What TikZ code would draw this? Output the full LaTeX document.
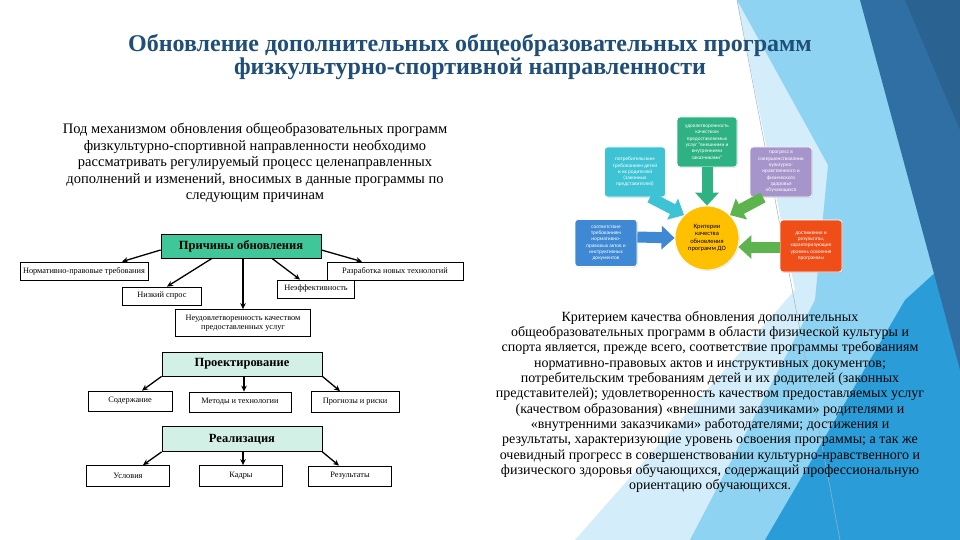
\documentclass[tikz,border=0pt]{standalone}
\usepackage{fontspec}
\setmainfont{Liberation Serif}
\newfontfamily\cali{Carlito}
\usetikzlibrary{arrows.meta,calc,shadows}
\definecolor{titleblue}{HTML}{1F4E79}
\definecolor{bgpale}{HTML}{D3EEFA}
\definecolor{bglight}{HTML}{8FD3F2}
\definecolor{bgmid}{HTML}{2A9DD8}
\definecolor{bgdark}{HTML}{2F6FA3}
\definecolor{bgdark2}{HTML}{2A6292}
\definecolor{thinln}{HTML}{9FB3C2}
\definecolor{headgreen}{HTML}{3FC79A}
\definecolor{mint}{HTML}{D2F0E6}
\definecolor{cgreen}{HTML}{2FB283}
\definecolor{ccyan}{HTML}{3DC3D4}
\definecolor{cblue}{HTML}{3F88D4}
\definecolor{cpurple}{HTML}{A695CB}
\definecolor{corange}{HTML}{F04E18}
\definecolor{cyellow}{HTML}{FFC000}
\definecolor{agreen}{HTML}{5DB44E}
\begin{document}
\begin{tikzpicture}[x=1pt,y=-1pt,
  lbox/.style={draw=black, line width=0.8pt, fill=white, inner sep=1pt,
    font=\fontsize{8.3}{9.5}\selectfont, align=center},
  hbox/.style={draw=black, line width=0.8pt, inner sep=1pt,
    font=\fontsize{12.5}{14}\selectfont\bfseries},
  arr/.style={-{Stealth[length=6pt,width=5.5pt]}, line width=1.3pt},
  cbox/.style={rounded corners=3pt, draw=white, line width=0.8pt, text=white,
    font=\cali\fontsize{5.3}{6.3}\selectfont, align=center, inner sep=1pt,
    drop shadow={opacity=0.25, shadow xshift=0.8pt, shadow yshift=-0.8pt}},
  barrow/.style={line width=11pt, -{Triangle[width=23pt,length=13pt]}}
]
\useasboundingbox (0,0) rectangle (960,540);
\fill[white] (0,0) rectangle (960,540);
% background facets
\fill[bgpale] (737,0) -- (960,0) -- (960,540) -- (575,540) -- (795,290) -- cycle;
\fill[bglight] (737,0) -- (960,0) -- (960,540) -- (690,540) -- (815,300) -- (828,165) -- cycle;
\fill[bgmid] (960,250) -- (960,540) -- (765,540) -- (905,300) -- cycle;
\fill[bgdark] (860,0) -- (960,0) -- (960,370) -- cycle;
\fill[bgdark2] (905,0) -- (960,0) -- (960,130) -- cycle;
\draw[thinln, line width=0.5pt] (737,0) -- (840,540);

% title
\node[text=titleblue, align=center, font=\fontsize{24}{23}\selectfont\bfseries] (title) at (470,57)
  {Обновление дополнительных общеобразовательных программ\\физкультурно-спортивной направленности};

% intro paragraph
\node[align=center, font=\fontsize{14.5}{16.5}\selectfont] (intro) at (255,163)
  {Под механизмом обновления общеобразовательных программ\\
   физкультурно-спортивной направленности необходимо\\
   рассматривать регулируемый процесс целенаправленных\\
   дополнений и изменений, вносимых в данные программы по\\
   следующим причинам};

% right paragraph
\node[align=center, font=\fontsize{14}{15.3}\selectfont] (crit) at (710,402)
  {Критерием качества обновления дополнительных\\
   общеобразовательных программ в области физической культуры и\\
   спорта является, прежде всего, соответствие программы требованиям\\
   нормативно-правовых актов и инструктивных документов;\\
   потребительским требованиям детей и их родителей (законных\\
   представителей); удовлетворенность качеством предоставляемых услуг\\
   (качеством образования) «внешними заказчиками» родителями и\\
   «внутренними заказчиками» работодателями; достижения и\\
   результаты, характеризующие уровень освоения программы; а так же\\
   очевидный прогресс в совершенствовании культурно-нравственного и\\
   физического здоровья обучающихся, содержащий профессиональную\\
   ориентацию обучающихся.};

% left diagram
\node[hbox, fill=headgreen, minimum width=160pt, minimum height=24pt] (prich) at (241,246) {Причины обновления};
\node[lbox, minimum width=128pt, minimum height=18pt] (norm) at (84,271) {Нормативно-правовые требования};
\node[lbox, minimum width=136pt, minimum height=18pt] (razr) at (395,271) {Разработка новых технологий};
\node[lbox, minimum width=79pt, minimum height=18pt] (nizk) at (162,296) {Низкий спрос};
\node[lbox, minimum width=77pt, minimum height=18pt] (neeff) at (316,289) {Неэффективность};
\node[lbox, minimum width=135pt, minimum height=27pt] (neud) at (243,323) {Неудовлетворенность качеством\\предоставленных услуг};
\node[hbox, fill=mint, minimum width=160pt, minimum height=24pt] (proekt) at (242,364) {Проектирование};
\node[lbox, minimum width=84pt, minimum height=20pt] (sod) at (130,401) {Содержание};
\node[lbox, minimum width=102pt, minimum height=20pt] (metod) at (240,402) {Методы и технологии};
\node[lbox, minimum width=88pt, minimum height=21pt] (prog) at (355,402) {Прогнозы и риски};
\node[hbox, fill=mint, minimum width=160pt, minimum height=25pt] (real) at (242,439) {Реализация};
\node[lbox, minimum width=83pt, minimum height=21pt] (usl) at (128,476) {Условия};
\node[lbox, minimum width=83pt, minimum height=21pt] (kadr) at (241,476) {Кадры};
\node[lbox, minimum width=83pt, minimum height=20pt] (rez) at (350,476) {Результаты};

\draw[arr] ($(prich.west)+(0,4)$) -- ($(norm.north)+(38,0)$);
\draw[arr] ($(prich.south)+(-29,0)$) -- ($(nizk.north)+(5,0)$);
\draw[arr] ($(prich.south)+(2,0)$) -- ($(neud.north)+(0,0)$);
\draw[arr] ($(prich.south)+(31,0)$) -- ($(neeff.north)+(-16,0)$);
\draw[arr] ($(prich.east)+(0,4)$) -- ($(razr.north)+(-33,0)$);
\draw[arr] (proekt.south west) -- ($(sod.north)+(12,0)$);
\draw[arr] ($(proekt.south)+(2,0)$) -- ($(metod.north)+(4,0)$);
\draw[arr] (proekt.south east) -- ($(prog.north)+(-15,0)$);
\draw[arr] (real.south west) -- ($(usl.north)+(15,0)$);
\draw[arr] ($(real.south)+(1,0)$) -- ($(kadr.north)+(2,0)$);
\draw[arr] (real.south east) -- ($(rez.north)+(-11,0)$);

% criteria diagram
\node[cbox, fill=cgreen, minimum width=60pt, minimum height=50pt] (tb) at (707,142)
  {удовлетворенность\\качеством\\предоставляемых\\услуг "внешними и\\внутренними\\заказчиками"};
\node[cbox, fill=ccyan, minimum width=61pt, minimum height=50pt] (cb) at (635,172)
  {потребительским\\требованиям детей\\и их родителей\\(законных\\представителей)};
\node[cbox, fill=cblue, minimum width=62pt, minimum height=47pt] (bb) at (606,243)
  {соответствие\\требованиям\\нормативно-\\правовых актов и\\инструктивных\\документов};
\node[cbox, fill=cpurple, minimum width=62pt, minimum height=50pt] (pb) at (781,172)
  {прогресс в\\совершенствовании\\культурно-\\нравственного и\\физического\\здоровья\\обучающихся};
\node[cbox, fill=corange, minimum width=62pt, minimum height=52pt] (ob) at (811,246)
  {достижения и\\результаты,\\характеризующие\\уровень освоения\\программы};
\node[circle, fill=cyellow, draw=white, line width=0.8pt, minimum size=64pt, inner sep=0pt, align=center,
  font=\cali\fontsize{6.5}{7.6}\selectfont,
  drop shadow={opacity=0.25, shadow xshift=0.8pt, shadow yshift=-0.8pt}] (circ) at (707,238)
  {Критерии\\качества\\обновления\\программ ДО};

\draw[barrow, cgreen] (tb.south) -- (circ.north);
\draw[barrow, ccyan] ($(cb.south)+(15,0)$) -- (circ.north west);
\draw[barrow, agreen] ($(pb.south)+(-18,0)$) -- (circ.north east);
\draw[barrow, cblue] ($(bb.east)+(0,-6)$) -- (circ.west);
\draw[barrow, agreen] ($(ob.west)+(0,1)$) -- ($(circ.east)+(-1,9)$);
\end{tikzpicture}
\end{document}
